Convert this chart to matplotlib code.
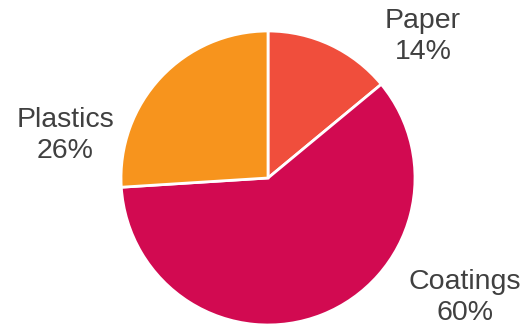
import matplotlib

matplotlib.use("Agg")
import matplotlib.pyplot as plt  # noqa: E402

plt.rcParams["font.family"] = ["Liberation Sans", "DejaVu Sans"]

categories = ["Paper", "Coatings", "Plastics"]
shares = [14, 60, 26]
colors = ["#F04E3C", "#D20A51", "#F7941D"]
# label anchor points, in pie radius units
label_xy = [(1.054, 0.965), (1.340, -0.815), (-1.381, 0.290)]

INK = "#404040"

fig = plt.figure(figsize=(5.25, 3.3), dpi=100)
ax = fig.add_axes([0.2305, 0.0152, 0.56, 0.8909])
ax.pie(
    shares,
    colors=colors,
    startangle=90,
    counterclock=False,
    wedgeprops=dict(edgecolor="white", linewidth=2),
)
ax.set_xlim(-1, 1)
ax.set_ylim(-1, 1)
ax.set_aspect("auto")
ax.axis("off")

for name, val, (x, y) in zip(categories, shares, label_xy):
    ax.text(x, y, f"{name}\n{val}%", ha="center", va="center",
            multialignment="center", fontsize=20.5, color=INK,
            linespacing=1.25, clip_on=False)

fig.savefig("out.png", dpi=100)
